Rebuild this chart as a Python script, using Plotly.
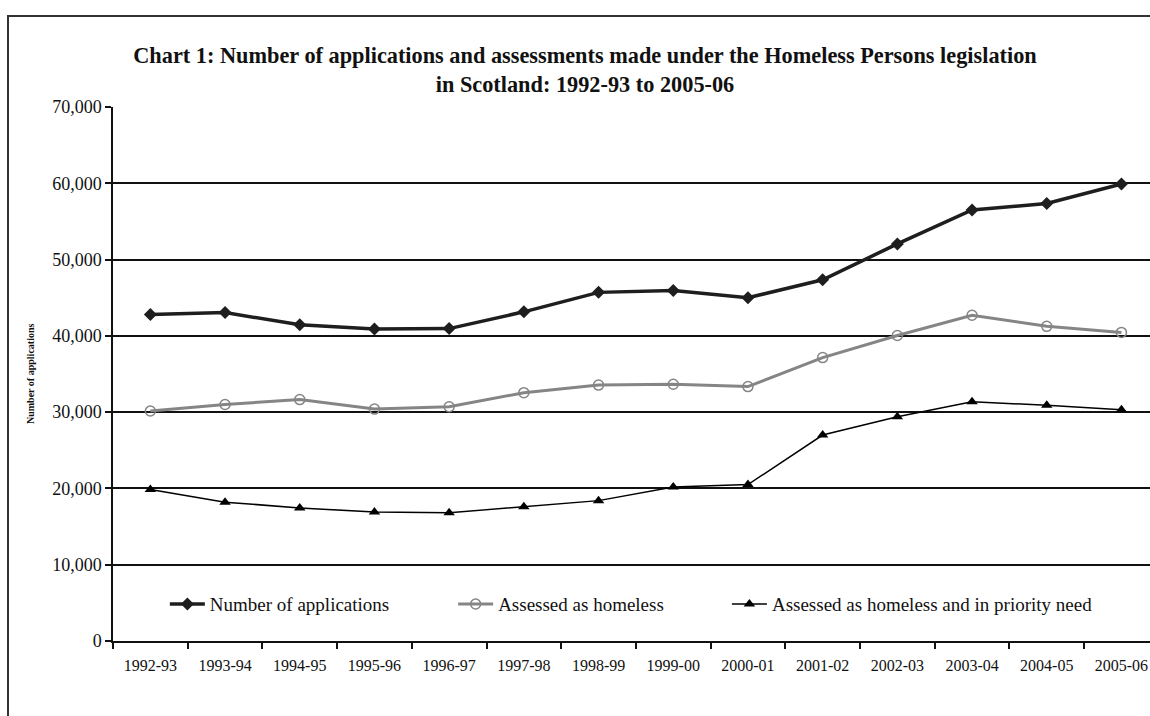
import plotly.graph_objects as go

years = ["1992-93", "1993-94", "1994-95", "1995-96", "1996-97", "1997-98", "1998-99",
         "1999-00", "2000-01", "2001-02", "2002-03", "2003-04", "2004-05", "2005-06"]
applications = [42800, 43050, 41450, 40900, 40950, 43150, 45700, 45950, 45000, 47350,
                52050, 56500, 57350, 59900]
homeless = [30150, 31000, 31650, 30400, 30700, 32550, 33550, 33650, 33350, 37150,
            40050, 42700, 41250, 40450]
priority = [19850, 18200, 17450, 16900, 16800, 17600, 18400, 20200, 20500, 27000,
            29400, 31350, 30900, 30300]
y_ticks = [0, 10000, 20000, 30000, 40000, 50000, 60000, 70000]

FONT = "Liberation Serif"

fig = go.Figure()
fig.add_trace(go.Scatter(
    x=years, y=applications, mode="lines+markers", name="Number of applications",
    line=dict(color="#1e1e1e", width=3.5),
    marker=dict(symbol="diamond", size=10, color="#1e1e1e"),
    legend="legend"))
fig.add_trace(go.Scatter(
    x=years, y=homeless, mode="lines+markers", name="Assessed as homeless",
    line=dict(color="#858585", width=3),
    marker=dict(symbol="circle-open", size=10, color="#858585", line=dict(width=1.5)),
    legend="legend2"))
fig.add_trace(go.Scatter(
    x=years, y=priority, mode="lines+markers", name="Assessed as homeless and in priority need",
    line=dict(color="#000000", width=1.5),
    marker=dict(symbol="triangle-up", size=10, color="#000000"),
    legend="legend3"))


def leg(x):
    return dict(orientation="h", yanchor="middle", y=0.069, xanchor="left", x=x,
                bgcolor="rgba(0,0,0,0)",
                font=dict(family=FONT, size=19, color="#111"),
                itemwidth=35)


fig.update_layout(
    width=1150, height=716,
    margin=dict(l=113, r=0, t=107, b=75),
    paper_bgcolor="white", plot_bgcolor="white",
    font=dict(family=FONT, color="#111"),
    title=dict(
        text="<b>Chart 1: Number of applications and assessments made under the Homeless Persons legislation<br>in Scotland: 1992-93 to 2005-06</b>",
        x=585 / 1150, xanchor="center", xref="container",
        y=1 - 63 / 716, yanchor="middle", yref="container",
        font=dict(family=FONT, size=22.3, color="#111")),
    legend=leg(0.050),
    legend2=leg(0.328),
    legend3=leg(0.592),
    showlegend=True,
)

fig.update_xaxes(
    type="category", categoryorder="array", categoryarray=years,
    range=[-0.5, -0.5 + 1037 / 74.7],
    tickson="boundaries", ticks="outside", ticklen=6, tickcolor="#111", tickwidth=1.5,
    showgrid=False, showline=True, linecolor="#111", linewidth=1.5,
    tickfont=dict(family=FONT, size=16, color="#111"),
    ticklabelstandoff=9,
    zeroline=False)

fig.update_yaxes(
    range=[0, 70000], tickvals=y_ticks, tickformat=",",
    ticks="outside", ticklen=6, tickcolor="#111", tickwidth=1.5,
    showgrid=True, gridcolor="#111", gridwidth=1.5,
    showline=True, linecolor="#111", linewidth=1.5,
    zeroline=False,
    tickfont=dict(family=FONT, size=18, color="#111"))

# y-axis title
fig.add_annotation(
    text="<b>Number of applications</b>", xref="paper", yref="paper",
    x=(30 - 113) / 1037, y=0.5, xanchor="center", yanchor="middle",
    textangle=-90, showarrow=False, font=dict(family=FONT, size=10, color="#111"))

# outer frame
fig.add_shape(
    type="rect", xref="paper", yref="paper",
    x0=(8 - 113) / 1037, x1=1.1, y0=(641 - 16) / 534, y1=-0.3,
    line=dict(color="#333", width=2), layer="below")

fig.write_html("out.html")
